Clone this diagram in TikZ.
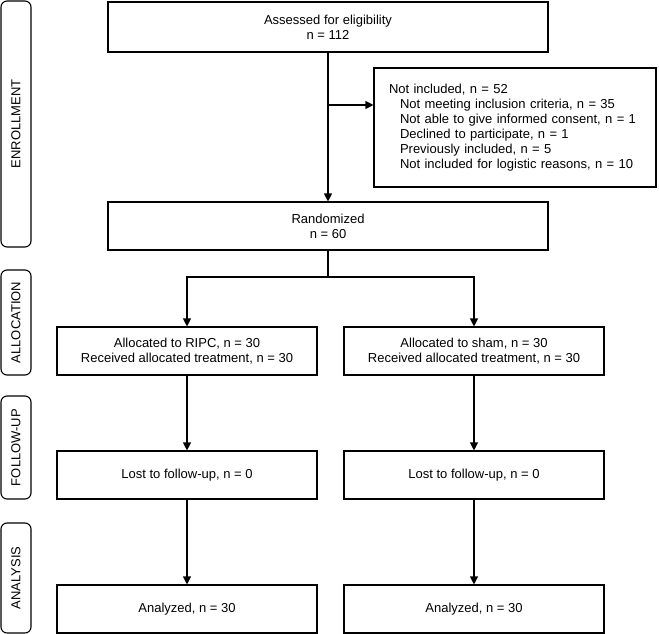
\documentclass[tikz,border=0pt]{standalone}
\usepackage{fontspec}
\setmainfont{Liberation Sans}
\usetikzlibrary{arrows.meta}
\begin{document}
\begin{tikzpicture}[x = 1pt, y = -1pt, line width = 1.1pt]
      \tikzstyle{every node} = [font = \fontsize{13}{15}\selectfont, inner sep = 0pt];
      \tikzstyle{box} = [draw, rectangle, align = center, minimum height = 48pt];
      \tikzstyle{phase} = [draw, rectangle, rounded corners = 6pt, rotate = 90, minimum height = 30pt];
      \tikzstyle{arr} = [-{Triangle[width = 8pt, length = 8pt]}];
      \useasboundingbox (0,0) rectangle (659,634);
      \node(enrol) [phase, minimum width = 246pt] at (16, 124) {ENROLLMENT};
      \node(alloc) [phase, minimum width = 105pt] at (16, 322.5) {ALLOCATION};
      \node(follow) [phase, minimum width = 103pt] at (16, 447.5) {FOLLOW-UP};
      \node(anal) [phase, minimum width = 110pt] at (16, 578) {ANALYSIS};
      \node(assess) [box, minimum width = 440pt, minimum height = 50pt] at (328, 27)
        {Assessed for eligibility\\n = 112};
      \node(excl) [draw, rectangle, align = left, text width = 252pt, inner xsep = 15pt,
        minimum height = 119pt] at (515, 127.5)
        {Not included, n = 52\\
         \hspace*{11pt}Not meeting inclusion criteria, n = 35\\
         \hspace*{11pt}Not able to give informed consent, n = 1\\
         \hspace*{11pt}Declined to participate, n = 1\\
         \hspace*{11pt}Previously included, n = 5\\
         \hspace*{11pt}Not included for logistic reasons, n = 10};
      \node(rand) [box, minimum width = 440pt] at (328, 226) {Randomized\\n = 60};
      \node(ripc) [box, minimum width = 260pt] at (187, 351)
        {Allocated to RIPC, n = 30\\Received allocated treatment, n = 30};
      \node(sham) [box, minimum width = 260pt] at (474, 351)
        {Allocated to sham, n = 30\\Received allocated treatment, n = 30};
      \node(lostl) [box, minimum width = 260pt] at (187, 475) {Lost to follow-up, n = 0};
      \node(lostr) [box, minimum width = 260pt] at (474, 475) {Lost to follow-up, n = 0};
      \node(anl) [box, minimum width = 260pt] at (187, 609) {Analyzed, n = 30};
      \node(anr) [box, minimum width = 260pt] at (474, 609) {Analyzed, n = 30};
      \coordinate(split) at (328, 105);
      \coordinate(fork) at (328, 277);
      \path[arr]
      (assess) edge (rand)
      (split) edge (split -| excl.west)
      (ripc) edge (lostl)
      (lostl) edge (anl)
      (sham) edge (lostr)
      (lostr) edge (anr);
      \draw (rand.south) -- (fork);
      \draw[arr] (fork) -| (ripc.north);
      \draw[arr] (fork) -| (sham.north);
    \end{tikzpicture}
\end{document}
